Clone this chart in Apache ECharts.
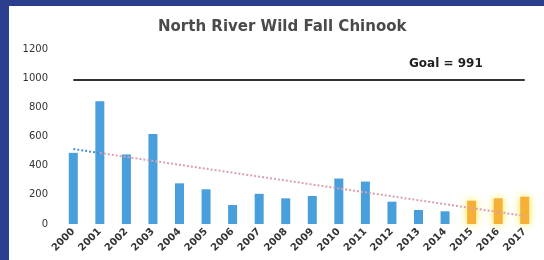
<!DOCTYPE html>
<html><head><meta charset="utf-8">
<script src="https://cdn.jsdelivr.net/npm/echarts@6/dist/echarts.min.js"></script>
<style>html,body{margin:0;padding:0;background:#fff}#c{width:544px;height:260px}</style>
</head><body><div id="c"></div>
<script>
var years = ['2000','2001','2002','2003','2004','2005','2006','2007','2008','2009','2010','2011','2012','2013','2014','2015','2016','2017'];
var countsBlue = [488,842,477,617,279,238,130,207,176,192,312,291,153,96,87,null,null,null];
var countsYellow = [null,null,null,null,null,null,null,null,null,null,null,null,null,null,null,160,176,187];
var trendBlue = [514,487,null,null,null,null,null,null,null,null,null,null,null,null,null,null,null,null];
var trendPink = [null,487,null,null,null,null,null,null,null,null,null,null,null,null,null,null,null,55];
var goalValue = 991;
var yTicks = [0,200,400,600,800,1000,1200];

var chart = echarts.init(document.getElementById('c'));
chart.setOption({
  animation:false,
  backgroundColor:'#ffffff',
  title:{text:'North River Wild Fall Chinook',left:153,top:15,
    textStyle:{fontFamily:'DejaVu Sans',fontSize:15,fontWeight:'bold',color:'#4a4a4a'}},
  grid:{left:60,right:6,top:49,bottom:36},
  xAxis:{type:'category',data:years,
    axisLine:{show:false},axisTick:{show:false},
    axisLabel:{rotate:45,fontFamily:'DejaVu Sans',fontSize:10,fontWeight:'bold',color:'#333',margin:6}},
  yAxis:{type:'value',min:yTicks[0],max:yTicks[yTicks.length-1],interval:200,
    axisLine:{show:false},axisTick:{show:false},splitLine:{show:false},
    axisLabel:{fontFamily:'DejaVu Sans',fontSize:10,color:'#333',margin:12,
      formatter:function(v){return String(v);}}},
  graphic:[
    {type:'rect',left:0,top:0,shape:{width:9,height:260},style:{fill:'#2c3f8e'}},
    {type:'rect',left:0,top:0,shape:{width:544,height:6},style:{fill:'#2c3f8e'}},
    {type:'text',left:409,top:58,style:{text:'Goal = 991',fontFamily:'DejaVu Sans',fontSize:12,fontWeight:'bold',fill:'#222'}}
  ],
  series:[
    {type:'bar',data:countsBlue,barWidth:9,itemStyle:{color:'#489fdb'},
      markLine:{symbol:'none',silent:true,label:{show:false},
        lineStyle:{color:'#333',width:2,type:'solid'},
        data:[[{coord:[years[0],goalValue]},{coord:[years[years.length-1],goalValue]}]]}},
    {type:'bar',data:countsYellow,barWidth:9,barGap:'-100%',
      itemStyle:{color:'#f6b035',shadowColor:'#ffe640',shadowBlur:8}},
    {type:'line',data:trendBlue,symbol:'none',connectNulls:true,
      lineStyle:{color:'#4a90d9',width:2,type:'dotted'}},
    {type:'line',data:trendPink,symbol:'none',connectNulls:true,
      lineStyle:{color:'#d9a0b4',width:2,type:'dotted'}}
  ]
});
</script></body></html>
